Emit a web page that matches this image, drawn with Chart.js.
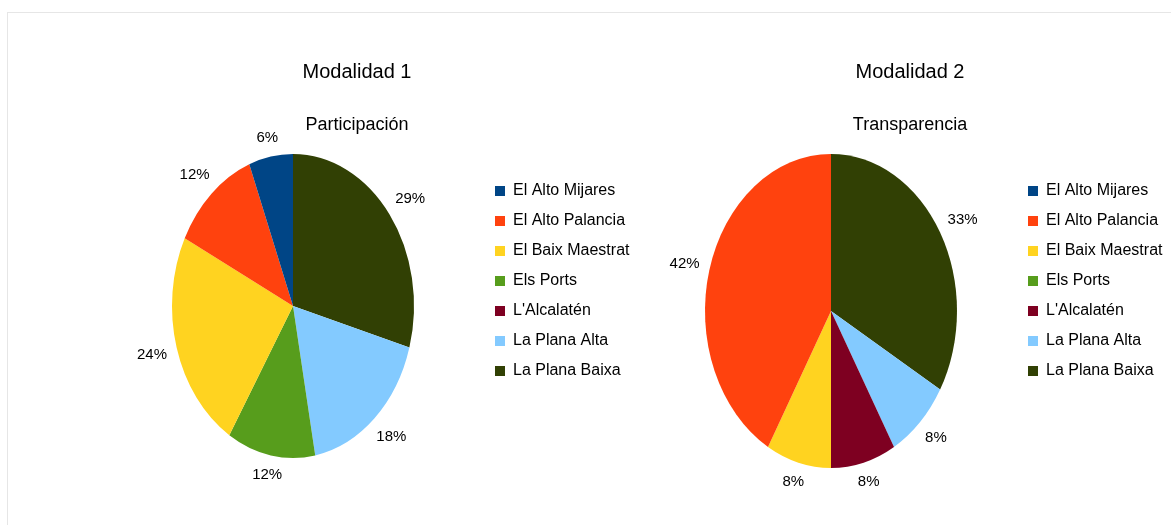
<!DOCTYPE html>
<html>
<head>
<meta charset="utf-8">
<script src="https://cdn.jsdelivr.net/npm/chart.js@4.4.0/dist/chart.umd.min.js"></script>
<style>
  html, body { margin: 0; padding: 0; background: #fff; overflow: hidden; width: 1171px; height: 525px; }
  #marco { position: absolute; left: 7px; top: 12px; right: -10px; bottom: -10px;
           border-left: 1px solid #e6e6e6; border-top: 1px solid #e6e6e6; }
  #c1 { position: absolute; left: 0; top: 0; }
  #c2 { position: absolute; left: 560px; top: 0; }
</style>
</head>
<body>
<div id="marco"></div>
<canvas id="c1" width="700" height="525"></canvas>
<canvas id="c2" width="640" height="525"></canvas>
<script>
// datos
const comarcas = ["El Alto Mijares", "El Alto Palancia", "El Baix Maestrat", "Els Ports",
                  "L'Alcalatén", "La Plana Alta", "La Plana Baixa"];
const colores = ["#004586", "#ff420e", "#ffd320", "#579d1c", "#7e0021", "#83caff", "#314004"];
const participacion = [1, 2, 4, 2, 0, 3, 5];
const transparencia = [0, 5, 1, 0, 1, 1, 4];
const titulos = ["Modalidad 1", "Modalidad 2"];
const subtitulos = ["Participación", "Transparencia"];

const fuente = "'Liberation Sans', Arial, sans-serif";
Chart.defaults.font.family = fuente;
Chart.defaults.color = "#000";

// LibreOffice dibuja las porciones en sentido antihorario: se invierte el orden
const inv = (a) => a.slice().reverse();

// ancho que Chart.js dara a la leyenda (padding + caja + hueco + texto + 10)
function anchoLeyenda() {
  const ctx = document.createElement("canvas").getContext("2d");
  ctx.font = "16px " + fuente;
  const maxTxt = Math.max(...comarcas.map(t => ctx.measureText(t).width));
  return 14 + 10 + 8 + maxTxt + 10;
}
const LW = anchoLeyenda();

// pinta la tarta como elipse y pone los porcentajes fuera
const elipse = {
  id: "elipse",
  beforeDatasetsDraw(chart, args, opts) {
    const arc = chart.getDatasetMeta(0).data[0];
    const ctx = chart.ctx;
    ctx.save();
    ctx.translate(arc.x, arc.y);
    ctx.scale(1, opts.k);
    ctx.translate(-arc.x, -arc.y);
  },
  afterDatasetsDraw(chart, args, opts) {
    const ctx = chart.ctx;
    ctx.restore();
    const data = chart.data.datasets[0].data;
    const total = data.reduce((a, b) => a + b, 0);
    ctx.save();
    ctx.font = "15px " + fuente;
    ctx.fillStyle = "#000";
    ctx.textAlign = "center";
    ctx.textBaseline = "middle";
    chart.getDatasetMeta(0).data.forEach((arc, i) => {
      if (!data[i]) return;
      const txt = Math.round(data[i] / total * 100) + "%";
      const a = (arc.startAngle + arc.endAngle) / 2;
      const ux = Math.cos(a), uy = Math.sin(a);
      const hw = ctx.measureText(txt).width / 2;
      const d = 9 + hw * Math.abs(ux) + 8 * Math.abs(uy);
      ctx.fillText(txt, arc.x + (arc.outerRadius + d) * ux,
                   arc.y + (arc.outerRadius * opts.k + d) * uy);
    });
    ctx.restore();
  }
};

// centra titulo y subtitulo en la x pedida
const centrarTitulos = {
  id: "centrarTitulos",
  afterLayout(chart, args, opts) {
    chart.boxes.forEach(b => {
      if (b.options && typeof b.options.text === "string") {
        const w = b.right - b.left;
        b.left = opts.x - w / 2;
        b.right = b.left + w;
      }
    });
  }
};

function tarta(id, n, valores, radio, k, pad, xTitulo) {
  new Chart(document.getElementById(id), {
    type: "pie",
    data: {
      labels: inv(comarcas),
      datasets: [{
        data: inv(valores),
        backgroundColor: inv(colores),
        borderWidth: 0,
        radius: radio
      }]
    },
    options: {
      responsive: false,
      animation: false,
      events: [],
      layout: { padding: pad },
      plugins: {
        elipse: { k: k },
        centrarTitulos: { x: xTitulo },
        title: {
          display: true,
          text: titulos[n],
          font: { size: 20, weight: "normal" },
          padding: { top: 60, bottom: 0 }
        },
        subtitle: {
          display: true,
          text: subtitulos[n],
          font: { size: 18, weight: "normal" },
          padding: { top: 30.2, bottom: 33.2 }
        },
        legend: {
          position: "right",
          align: "start",
          fullSize: false,
          reverse: true,
          labels: {
            boxWidth: 10,
            boxHeight: 10,
            padding: 14,
            font: { size: 16 }
          }
        },
        tooltip: { enabled: false }
      }
    },
    plugins: [elipse, centrarTitulos]
  });
}

// leyenda 1 empieza en x=481, leyenda 2 en x=1014 (pagina)
tarta("c1", 0, participacion, 121, 1.256,
      { left: 105, right: 700 - 481 - LW, top: 0, bottom: 82 }, 357);
tarta("c2", 1, transparencia, 126, 1.246,
      { left: 88, right: 640 - (1014 - 560) - LW, top: 0, bottom: 72 }, 910 - 560);
</script>
</body>
</html>
